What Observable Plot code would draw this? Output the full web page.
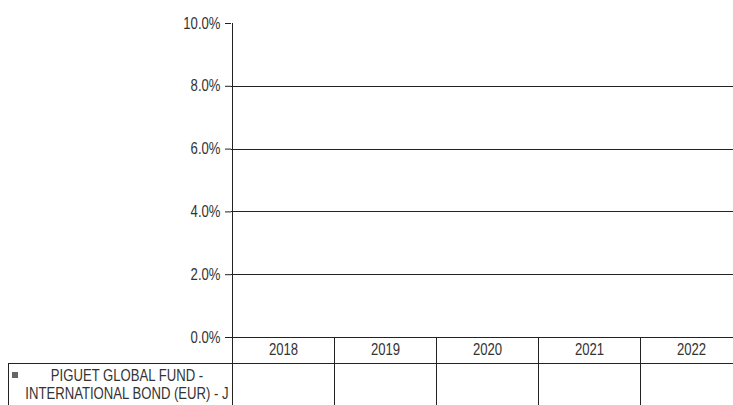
<!DOCTYPE html>
<html>
<head>
<meta charset="utf-8">
<script src="https://cdn.jsdelivr.net/npm/d3@7"></script>
<script src="https://cdn.jsdelivr.net/npm/@observablehq/plot@0.6"></script>
<style>
  html, body { margin: 0; padding: 0; background: #fff; overflow: hidden; }
  #chart svg { display: block; }
</style>
</head>
<body>
<div id="chart"></div>
<script>
const years = ["2018", "2019", "2020", "2021", "2022"];
const seriesName = "PIGUET GLOBAL FUND - INTERNATIONAL BOND (EUR) - J";
const seriesLines = ["PIGUET GLOBAL FUND -", "INTERNATIONAL BOND (EUR) - J"];
const seriesValues = [null, null, null, null, null];
const yTicks = [0, 0.02, 0.04, 0.06, 0.08, 0.10];
const gridTicks = [0, 0.02, 0.04, 0.06, 0.08];

const FONT = "'Liberation Sans', Arial, sans-serif";
const NARROW = 0.82; // emulate a narrow face
const W = 733, H = 405;
const tableLeft = 8;
const headerH = 26;

const data = years.map((y, i) => ({year: y, value: seriesValues[i]}));

function tableMark(index, scales, values, dimensions) {
  const x = scales.x, y = scales.y;
  const y0 = y(0);
  const rowTop = y0 + headerH;
  const g = d3.create("svg:g");
  const stroke = "#222";
  const axisX = x(years[0]);
  const line = (x1, y1, x2, y2) => g.append("line")
    .attr("x1", x1).attr("x2", x2).attr("y1", y1).attr("y2", y2)
    .attr("stroke", stroke).attr("stroke-width", 1).attr("shape-rendering", "crispEdges");
  line(axisX, y(0.10), axisX, H);
  years.slice(1).forEach(yr => line(x(yr), y0, x(yr), H));
  line(tableLeft, rowTop, W, rowTop);
  line(tableLeft, rowTop, tableLeft, H);
  g.append("rect").attr("x", 12).attr("y", rowTop + 9).attr("width", 6).attr("height", 6)
    .attr("fill", "#666");
  const cx = 127;
  seriesLines.forEach((t, i) => {
    g.append("text").attr("x", cx).attr("y", rowTop + 12 + i * 18)
      .attr("dy", "0.35em").attr("text-anchor", "middle")
      .attr("font-family", FONT).attr("font-size", 16).attr("fill", "#333")
      .text(t);
  });
  return g.node();
}

const chart = Plot.plot({
  width: W,
  height: H,
  marginLeft: 231,
  marginRight: 0,
  marginTop: 23,
  marginBottom: H - 337,
  style: {fontFamily: FONT, background: "#fff", overflow: "hidden"},
  x: {domain: years, range: [231, 743], padding: 0, label: null},
  y: {domain: [0, 0.10], label: null},
  marks: [
    Plot.ruleY(gridTicks, {stroke: "#222", strokeOpacity: 1, shapeRendering: "crispEdges"}),
    Plot.barY(data.filter(d => d.value != null), {x: "year", y: "value", fill: "#666"}),
    Plot.axisY(yTicks, {
      tickFormat: d3.format(".1%"), tickSize: 6, tickPadding: 5,
      fontSize: 16, color: "#333", stroke: "#222", label: null
    }),
    Plot.axisX({tickSize: 0, tickPadding: 6, fontSize: 16, color: "#333", label: null}),
    tableMark
  ]
});
document.getElementById("chart").appendChild(chart);

// Horizontally condense every text around its anchor point
chart.querySelectorAll("text").forEach(el => {
  const ax = parseFloat(el.getAttribute("x")) || 0;
  const t = el.getAttribute("transform") || "";
  el.setAttribute("transform", `${t} translate(${ax},0) scale(${NARROW},1) translate(${-ax},0)`.trim());
});
</script>
</body>
</html>
